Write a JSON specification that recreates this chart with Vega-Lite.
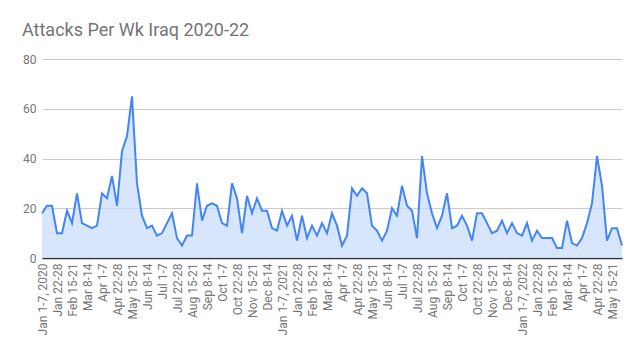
{
  "$schema": "https://vega.github.io/schema/vega-lite/v6.json",
  "autosize": {"type": "none"},
  "padding": {"left": 42, "top": 59, "right": 17, "bottom": 94},
  "width": 580,
  "height": 199,
  "background": "white",
  "title": {"text": "Attacks Per Wk Iraq 2020-22", "anchor": "start", "frame": "group", "dx": -20, "offset": 13, "fontSize": 18, "font": "Roboto", "fontWeight": "normal", "color": "#757575"},
  "config": {"view": {"stroke": null}},
  "data": {"values": [
    {"week": "Jan 1-7, 2020", "attacks": 18}, {"week": "Jan 8-14, 2020", "attacks": 21}, {"week": "Jan 15-21, 2020", "attacks": 21}, {"week": "Jan 22-28, 2020", "attacks": 10},
    {"week": "Feb 1-7, 2020", "attacks": 10}, {"week": "Feb 8-14, 2020", "attacks": 19}, {"week": "Feb 15-21, 2020", "attacks": 14}, {"week": "Feb 22-28, 2020", "attacks": 26},
    {"week": "Mar 1-7, 2020", "attacks": 14}, {"week": "Mar 8-14, 2020", "attacks": 13}, {"week": "Mar 15-21, 2020", "attacks": 12}, {"week": "Mar 22-28, 2020", "attacks": 13},
    {"week": "Apr 1-7, 2020", "attacks": 26}, {"week": "Apr 8-14, 2020", "attacks": 24}, {"week": "Apr 15-21, 2020", "attacks": 33}, {"week": "Apr 22-28, 2020", "attacks": 21},
    {"week": "May 1-7, 2020", "attacks": 43}, {"week": "May 8-14, 2020", "attacks": 49}, {"week": "May 15-21, 2020", "attacks": 65}, {"week": "May 22-28, 2020", "attacks": 30},
    {"week": "Jun 1-7, 2020", "attacks": 17}, {"week": "Jun 8-14, 2020", "attacks": 12}, {"week": "Jun 15-21, 2020", "attacks": 13}, {"week": "Jun 22-28, 2020", "attacks": 9},
    {"week": "Jul 1-7, 2020", "attacks": 10}, {"week": "Jul 8-14, 2020", "attacks": 14}, {"week": "Jul 15-21, 2020", "attacks": 18}, {"week": "Jul 22-28, 2020", "attacks": 8},
    {"week": "Aug 1-7, 2020", "attacks": 5}, {"week": "Aug 8-14, 2020", "attacks": 9}, {"week": "Aug 15-21, 2020", "attacks": 9}, {"week": "Aug 22-28, 2020", "attacks": 30},
    {"week": "Sep 1-7, 2020", "attacks": 15}, {"week": "Sep 8-14, 2020", "attacks": 21}, {"week": "Sep 15-21, 2020", "attacks": 22}, {"week": "Sep 22-28, 2020", "attacks": 21},
    {"week": "Oct 1-7, 2020", "attacks": 14}, {"week": "Oct 8-14, 2020", "attacks": 13}, {"week": "Oct 15-21, 2020", "attacks": 30}, {"week": "Oct 22-28, 2020", "attacks": 24},
    {"week": "Nov 1-7, 2020", "attacks": 10}, {"week": "Nov 8-14, 2020", "attacks": 25}, {"week": "Nov 15-21, 2020", "attacks": 18}, {"week": "Nov 22-28, 2020", "attacks": 24},
    {"week": "Dec 1-7, 2020", "attacks": 19}, {"week": "Dec 8-14, 2020", "attacks": 19}, {"week": "Dec 15-21, 2020", "attacks": 12}, {"week": "Dec 22-28, 2020", "attacks": 11},
    {"week": "Jan 1-7, 2021", "attacks": 19}, {"week": "Jan 8-14, 2021", "attacks": 13}, {"week": "Jan 15-21, 2021", "attacks": 17}, {"week": "Jan 22-28, 2021", "attacks": 7},
    {"week": "Feb 1-7, 2021", "attacks": 17}, {"week": "Feb 8-14, 2021", "attacks": 8}, {"week": "Feb 15-21, 2021", "attacks": 13}, {"week": "Feb 22-28, 2021", "attacks": 9},
    {"week": "Mar 1-7, 2021", "attacks": 14}, {"week": "Mar 8-14, 2021", "attacks": 10}, {"week": "Mar 15-21, 2021", "attacks": 18}, {"week": "Mar 22-28, 2021", "attacks": 13},
    {"week": "Apr 1-7, 2021", "attacks": 5}, {"week": "Apr 8-14, 2021", "attacks": 9}, {"week": "Apr 15-21, 2021", "attacks": 28}, {"week": "Apr 22-28, 2021", "attacks": 25},
    {"week": "May 1-7, 2021", "attacks": 28}, {"week": "May 8-14, 2021", "attacks": 26}, {"week": "May 15-21, 2021", "attacks": 13}, {"week": "May 22-28, 2021", "attacks": 11},
    {"week": "Jun 1-7, 2021", "attacks": 7}, {"week": "Jun 8-14, 2021", "attacks": 11}, {"week": "Jun 15-21, 2021", "attacks": 20}, {"week": "Jun 22-28, 2021", "attacks": 17},
    {"week": "Jul 1-7, 2021", "attacks": 29}, {"week": "Jul 8-14, 2021", "attacks": 21}, {"week": "Jul 15-21, 2021", "attacks": 19}, {"week": "Jul 22-28, 2021", "attacks": 8},
    {"week": "Aug 1-7, 2021", "attacks": 41}, {"week": "Aug 8-14, 2021", "attacks": 26}, {"week": "Aug 15-21, 2021", "attacks": 18}, {"week": "Aug 22-28, 2021", "attacks": 12},
    {"week": "Sep 1-7, 2021", "attacks": 17}, {"week": "Sep 8-14, 2021", "attacks": 26}, {"week": "Sep 15-21, 2021", "attacks": 12}, {"week": "Sep 22-28, 2021", "attacks": 13},
    {"week": "Oct 1-7, 2021", "attacks": 17}, {"week": "Oct 8-14, 2021", "attacks": 13}, {"week": "Oct 15-21, 2021", "attacks": 7}, {"week": "Oct 22-28, 2021", "attacks": 18},
    {"week": "Nov 1-7, 2021", "attacks": 18}, {"week": "Nov 8-14, 2021", "attacks": 14}, {"week": "Nov 15-21, 2021", "attacks": 10}, {"week": "Nov 22-28, 2021", "attacks": 11},
    {"week": "Dec 1-7, 2021", "attacks": 15}, {"week": "Dec 8-14, 2021", "attacks": 10}, {"week": "Dec 15-21, 2021", "attacks": 14}, {"week": "Dec 22-28, 2021", "attacks": 10},
    {"week": "Jan 1-7, 2022", "attacks": 9}, {"week": "Jan 8-14, 2022", "attacks": 14}, {"week": "Jan 15-21, 2022", "attacks": 7}, {"week": "Jan 22-28, 2022", "attacks": 11},
    {"week": "Feb 1-7, 2022", "attacks": 8}, {"week": "Feb 8-14, 2022", "attacks": 8}, {"week": "Feb 15-21, 2022", "attacks": 8}, {"week": "Feb 22-28, 2022", "attacks": 4},
    {"week": "Mar 1-7, 2022", "attacks": 4}, {"week": "Mar 8-14, 2022", "attacks": 15}, {"week": "Mar 15-21, 2022", "attacks": 6}, {"week": "Mar 22-28, 2022", "attacks": 5},
    {"week": "Apr 1-7, 2022", "attacks": 8}, {"week": "Apr 8-14, 2022", "attacks": 14}, {"week": "Apr 15-21, 2022", "attacks": 22}, {"week": "Apr 22-28, 2022", "attacks": 41},
    {"week": "May 1-7, 2022", "attacks": 29}, {"week": "May 8-14, 2022", "attacks": 7}, {"week": "May 15-21, 2022", "attacks": 12}, {"week": "May 22-28, 2022", "attacks": 12},
    {"week": "Jun 1-7, 2022", "attacks": 5}
  ]},
  "mark": {"type": "area", "color": "#c6dafc", "line": {"color": "#4285f4", "strokeWidth": 2}},
  "encoding": {
    "x": {
      "field": "week", "type": "ordinal", "sort": null,
      "scale": {"type": "point", "padding": 0},
      "axis": {
        "title": null,
        "values": ["Jan 1-7, 2020", "Jan 22-28, 2020", "Feb 15-21, 2020", "Mar 8-14, 2020", "Apr 1-7, 2020", "Apr 22-28, 2020", "May 15-21, 2020", "Jun 8-14, 2020", "Jul 1-7, 2020", "Jul 22-28, 2020", "Aug 15-21, 2020", "Sep 8-14, 2020", "Oct 1-7, 2020", "Oct 22-28, 2020", "Nov 15-21, 2020", "Dec 8-14, 2020",
                   "Jan 1-7, 2021", "Jan 22-28, 2021", "Feb 15-21, 2021", "Mar 8-14, 2021", "Apr 1-7, 2021", "Apr 22-28, 2021", "May 15-21, 2021", "Jun 8-14, 2021", "Jul 1-7, 2021", "Jul 22-28, 2021", "Aug 15-21, 2021", "Sep 8-14, 2021", "Oct 1-7, 2021", "Oct 22-28, 2021", "Nov 15-21, 2021", "Dec 8-14, 2021",
                   "Jan 1-7, 2022", "Jan 22-28, 2022", "Feb 15-21, 2022", "Mar 8-14, 2022", "Apr 1-7, 2022", "Apr 22-28, 2022", "May 15-21, 2022"],
        "labelExpr": "indexof(datum.label, 'Jan 1-7') == 0 ? datum.label : substring(datum.label, 0, length(datum.label) - 6)",
        "labelAngle": -90, "labelAlign": "right", "labelBaseline": "middle",
        "labelFont": "Roboto", "labelFontSize": 12, "labelColor": "#757575",
        "labelOverlap": false, "labelPadding": 5,
        "ticks": false, "grid": false,
        "domainColor": "#333333", "domainWidth": 1.5
      }
    },
    "y": {
      "field": "attacks", "type": "quantitative",
      "scale": {"domain": [0, 80], "nice": false},
      "axis": {
        "title": null, "values": [0, 20, 40, 60, 80],
        "labelFont": "Roboto", "labelFontSize": 12, "labelColor": "#757575", "labelPadding": 6,
        "ticks": false, "domain": false,
        "gridColor": "#cccccc", "gridWidth": 1
      }
    }
  }
}
